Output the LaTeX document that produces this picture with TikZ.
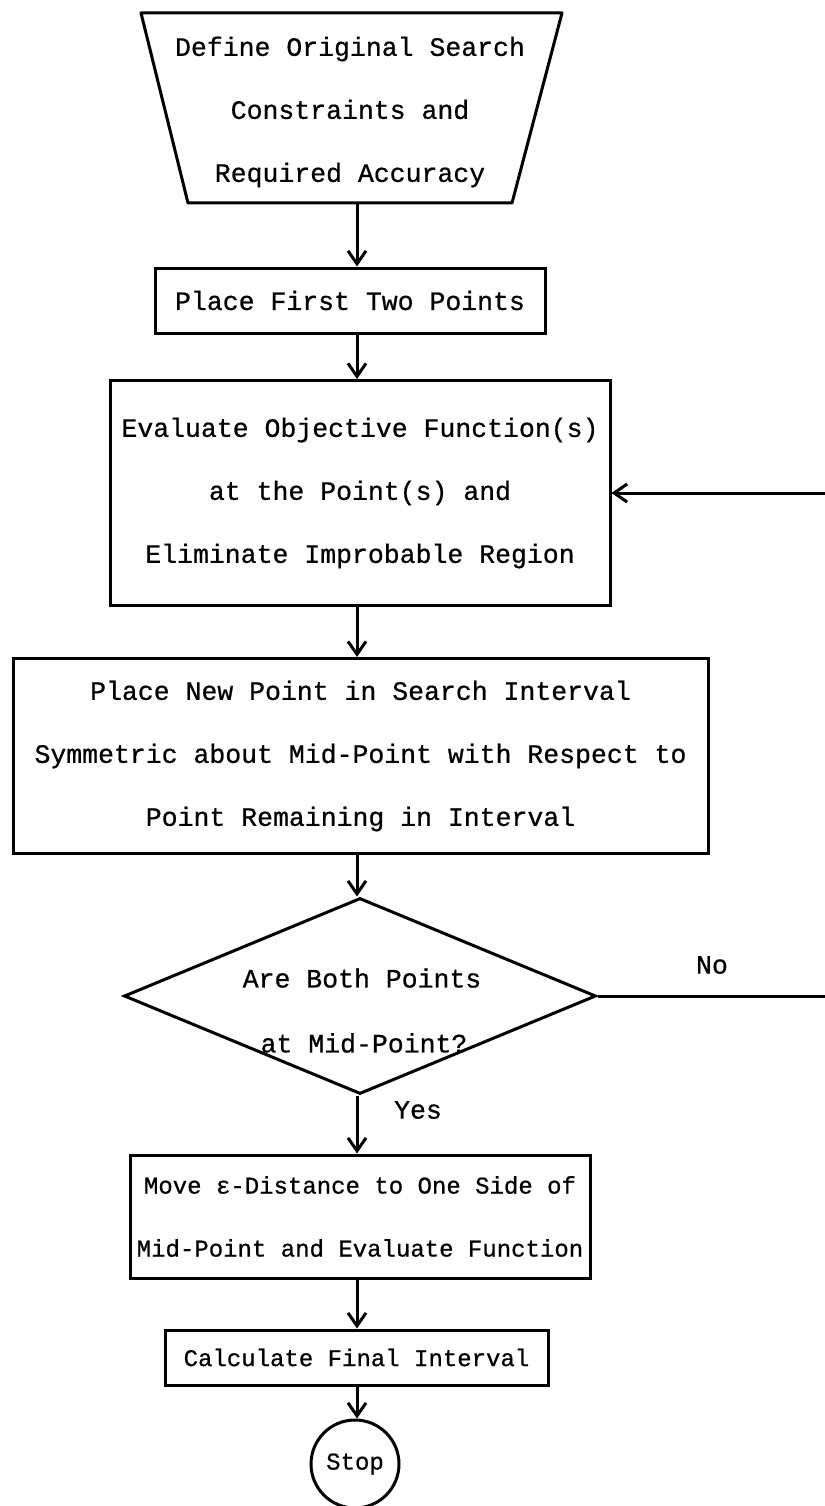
\documentclass[tikz,border=0pt]{standalone}
\usepackage{fontspec}
\setmonofont{Liberation Mono}[FakeBold=0.7]
\usetikzlibrary{arrows.meta,shapes.geometric}
\begin{document}
\begin{tikzpicture}[x=1pt,y=-1pt,
  every node/.style={font=\ttfamily\fontsize{26.5}{63}\selectfont, inner sep=0pt},
  small/.style={font=\ttfamily\fontsize{24}{63}\selectfont},
  box/.style={draw, line width=3pt, align=center},
  ln/.style={line width=3pt},
  flow/.style={line width=3pt, -{Straight Barb[length=13pt,width=18pt]}}]
\useasboundingbox (0,0) rectangle (824,1506);
% trapezoid
\coordinate (t1) at (141,13);
\coordinate (t2) at (562,13);
\coordinate (t3) at (512,203);
\coordinate (t4) at (188,203);
\draw[ln, line join=round] (t1) -- (t2) -- (t3) -- (t4) -- cycle;
\node[align=center] (trap) at (350,112) {Define Original Search\\Constraints and\\Required Accuracy};
\coordinate (tb) at (357,203);
% boxes
\node[box, minimum width=390pt, minimum height=65pt] (b1) at (350,300.5) {Place First Two Points};
\node[box, minimum width=500pt, minimum height=225pt] (b2) at (360,493) {Evaluate Objective Function(s)\\at the Point(s) and\\Eliminate Improbable Region};
\node[box, minimum width=695pt, minimum height=195pt] (b3) at (360.5,756) {Place New Point in Search Interval\\Symmetric about Mid-Point with Respect to\\Point Remaining in Interval};
\node[diamond, draw, line width=3pt, minimum width=472pt, minimum height=196pt] (dia) at (360,996) {};
\node (q1) at (362,978) {Are Both Points};
\node (q2) at (364,1043) {at Mid-Point?};
\node[box, small, minimum width=460pt, minimum height=123pt] (b4) at (360,1216.5) {Move ε-Distance to One Side of\\Mid-Point and Evaluate Function};
\node[box, small, minimum width=383pt, minimum height=55pt] (b5) at (356.5,1357.5) {Calculate Final Interval};
\node[circle, draw, line width=3pt, minimum size=88pt, small] (stop) at (355,1464) {Stop};
% connectors
\draw[flow] (tb) -- (tb |- b1.north);
\draw[flow] (tb |- b1.south) -- (tb |- b2.north);
\draw[flow] (tb |- b2.south) -- (tb |- b3.north);
\draw[flow] (tb |- b3.south) -- (tb |- dia.north);
\draw[flow] (tb |- dia.south) -- (tb |- b4.north);
\node (yes) at (418,1110) {Yes};
\draw[flow] (tb |- b4.south) -- (tb |- b5.north);
\draw[flow] (tb |- b5.south) -- (tb |- stop.north);
\coordinate (la) at (832,996);
\coordinate (lb) at (832,493);
\draw[flow] (dia.east) -- (la) -- (lb) -- (b2.east);
\node (no) at (712,965) {No};
\end{tikzpicture}
\end{document}
